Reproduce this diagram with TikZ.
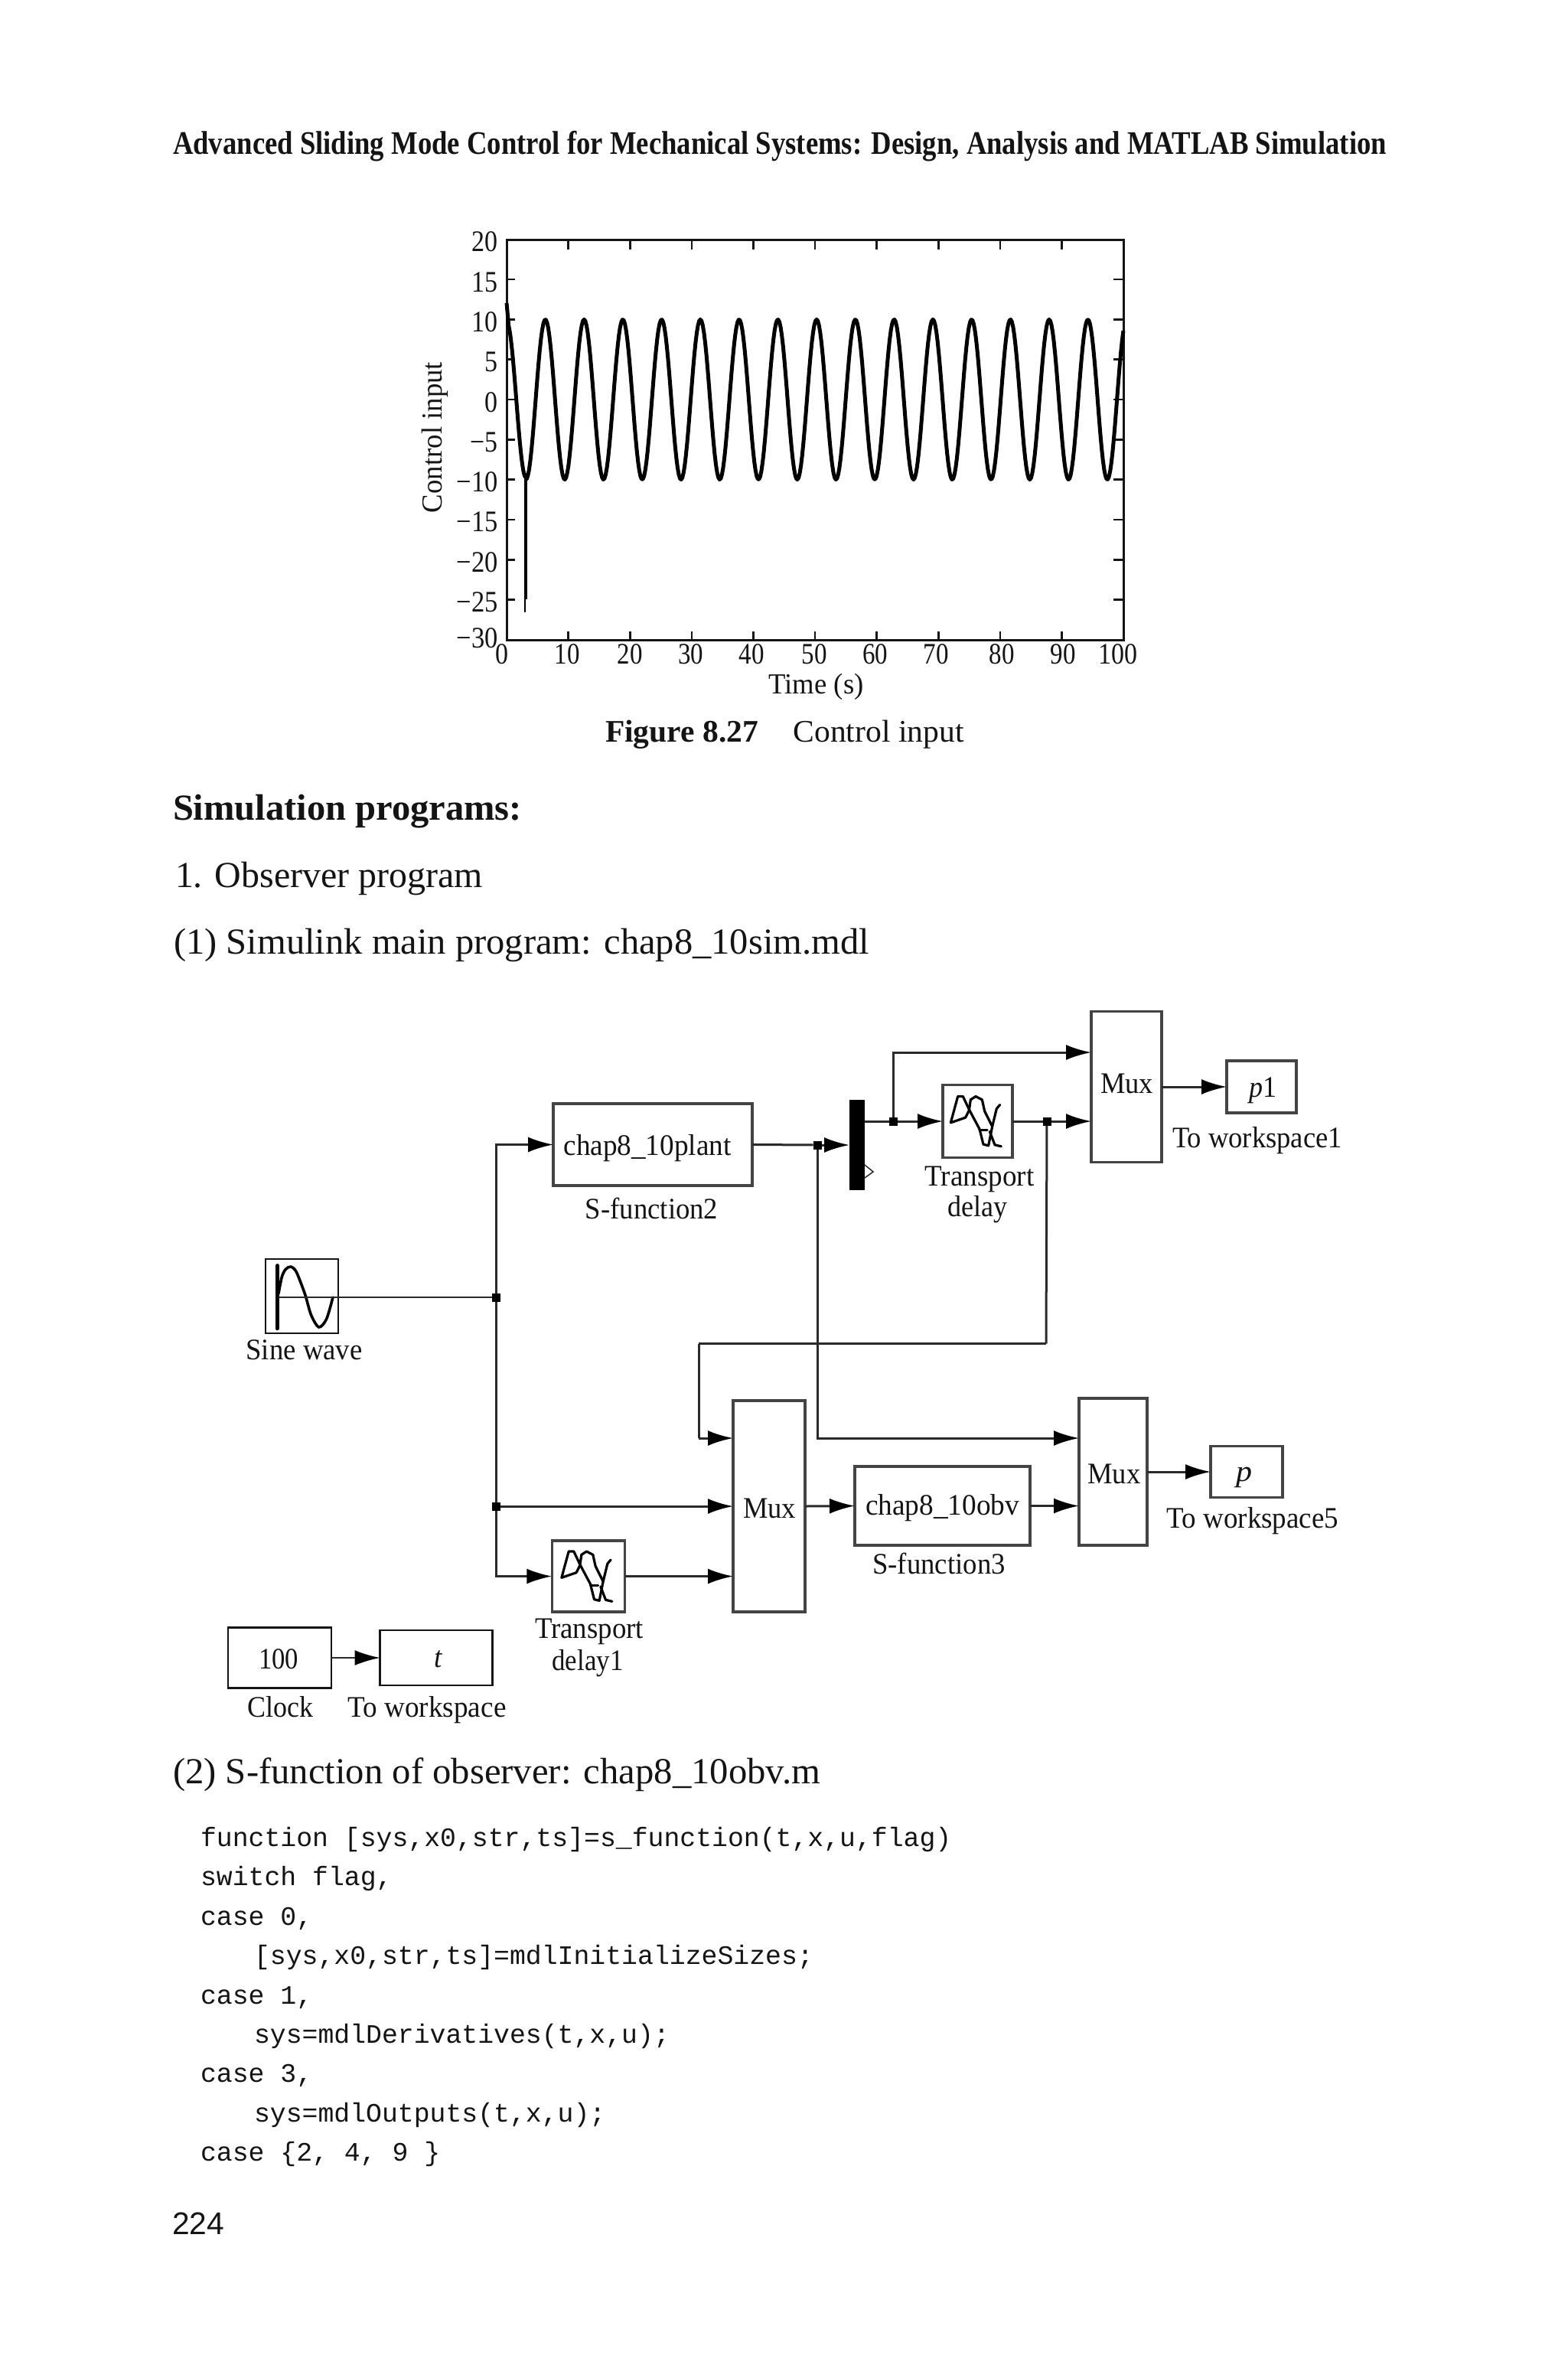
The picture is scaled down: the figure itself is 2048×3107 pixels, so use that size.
\documentclass[tikz,border=0pt]{standalone}
\usepackage{fontspec}
\usepackage{graphicx}
\setmainfont{Liberation Serif}
\setsansfont{Liberation Sans}
\setmonofont{Liberation Mono}
\usetikzlibrary{arrows.meta,calc}
\definecolor{ink}{HTML}{141414}
\definecolor{wire}{HTML}{2A2A2A}
\definecolor{boxline}{HTML}{444444}
\newsavebox\fitb
\newcommand\fitx[3]{\fontsize{#1}{#1}\selectfont\sbox\fitb{#3}\pgfmathsetmacro\fitr{#2/\wd\fitb}\scalebox{\fitr}[1]{\usebox\fitb}}
\newcommand\lab[4]{\node[txt] (#1) at (#2) {\fitx{39}{#3}{#4}};}
\newcommand\delayicon[2]{%
  \begin{scope}[shift={(#1,#2)},x=.3333pt,y=-.3333pt,line width=3.2pt,black,line join=round,line cap=round]
    \draw (52,175) -- (80,72) -- (100,72) -- (125,125) -- (110,155) -- cycle;
    \draw (125,120) -- (130,85) -- (150,72) -- (175,85) -- (185,130) -- (215,190) -- (232,120) -- (245,105);
    \draw (125,125) -- (165,200) -- (180,260) -- (200,265) -- (215,190);
    \draw (165,205) -- (195,205);
    \draw (205,210) -- (225,262) -- (250,268);
  \end{scope}}
\tikzset{
  txt/.style={inner sep=0pt,outer sep=0pt,anchor=base,text=ink},
  txtw/.style={inner sep=0pt,outer sep=0pt,anchor=base west,text=ink},
  blk/.style={draw=boxline,line width=3.2pt,inner sep=0pt,outer sep=0pt,fill=white},
  blkd/.style={draw=ink,line width=2.8pt,inner sep=0pt,outer sep=0pt,fill=white},
  dot/.style={fill=black,inner sep=0pt,minimum size=11pt,outer sep=0pt},
  sig/.style={draw=wire,line width=3pt},
  sigthin/.style={draw=wire,line width=2.2pt},
  arr/.style={sig,-{Latex[length=33pt,width=20pt,black]}},
  arrthin/.style={sigthin,-{Latex[length=33pt,width=20pt,black]}},
  code/.style={inner sep=0pt,outer sep=0pt,anchor=base west,text=ink,font=\ttfamily\fontsize{34.8}{34.8}\selectfont},
  tick/.style={draw=ink,line width=2.6pt},
  curve/.style={draw=black,line width=5pt,line join=round},
}
\begin{document}
\begin{tikzpicture}[x=1pt,y=-1pt]
\useasboundingbox (0,0) rectangle (2048,3107);
% page text
\node[txtw] (title) at (226,201.7) {\fitx{43}{1586}{\bfseries Advanced Sliding Mode Control for Mechanical Systems: Design, Analysis and MATLAB Simulation}};
\node[txtw] (h1) at (226,1071.7) {\fitx{48}{456}{\bfseries Simulation programs:}};
\node[txtw] (h2) at (229,1159) {\fitx{48}{402}{1. Observer program}};
\node[txtw] (h3) at (227,1246.7) {\fitx{48}{909}{(1) Simulink main program: chap8\_10sim.mdl}};
\node[txtw] (h4) at (226,2330) {\fitx{48}{846}{(2) S-function of observer: chap8\_10obv.m}};
\node[txtw] (capa) at (791,969) {\fitx{41}{200}{\bfseries Figure 8.27}};
\node[txtw] (capb) at (1036.6,969) {\fitx{41}{223}{Control input}};
% plot
\draw[draw=ink,line width=3pt] (662,313.5) rectangle (1468,836.5);
\foreach \k in {1,...,9} {
  \draw[tick] (662+80.6*\k,313.5) -- (662+80.6*\k,326);
  \draw[tick] (662+80.6*\k,836.5) -- (662+80.6*\k,825);
}
\foreach \v in {-25,-20,...,15} {
  \draw[tick] (662,522-10.46*\v) -- (673,522-10.46*\v);
  \draw[tick] (1468,522-10.46*\v) -- (1455,522-10.46*\v);
}
\foreach \v/\s/\w in {20/20/34,15/15/34,10/10/34,5/5/17,0/0/17,-5/{−5}/36,-10/{−10}/54,-15/{−15}/54,-20/{−20}/54,-25/{−25}/54} {
  \node[inner sep=0pt,outer sep=0pt,anchor=base east,text=ink] at (650.7,522-10.46*\v+16) {\fitx{39}{\w}{\s}};
}
\node[inner sep=0pt,outer sep=0pt,anchor=base east,text=ink] (ym30) at (650.7,846) {\fitx{39}{54}{−30}};
\foreach \px/\s/\w in {656/0/17,741/10/33,823/20/33,902.6/30/33,982/40/33,1064/50/33,1143.7/60/33,1223.4/70/33,1309/80/33,1389/90/33,1460.7/100/51} {
  \node[txt] at (\px,867) {\fitx{39}{\w}{\s}};
}
\node[txt] (xlab) at (1066.5,906) {\fitx{38}{124}{Time (s)}};
\node[inner sep=0pt,outer sep=0pt,anchor=base,rotate=90,text=ink] (ylab) at (577,571.5) {\fitx{38}{197}{Control input}};
\draw[curve] (662,396) -- (664.4,422) -- plot[domain=0.3:3.05,samples=40] (662+8.06*\x,{522-102*cos(\x r)});
\draw[line width=3.8pt,draw=black] (687,618) -- (687,783);
\draw[line width=2pt,draw=black] (686,700) -- (686,800);
\draw[curve] plot[domain=3.05:100,samples=500] (662+8.06*\x,{522-104.6*cos(\x r)});
% blocks
\node[blkd,minimum width=95pt,minimum height=97pt] (sine) at (394.5,1693.5) {};
\node[blk,minimum width=260pt,minimum height=107pt] (plant) at (853,1495.5) {};
\node[fill=black,inner sep=0pt,outer sep=0pt,minimum width=20pt,minimum height=118pt] (bar) at (1120,1496) {};
\node[blk,minimum width=91pt,minimum height=95pt] (delay) at (1277.5,1465) {};
\node[blk,minimum width=92pt,minimum height=197pt] (muxa) at (1472,1420) {};
\node[blk,minimum width=91pt,minimum height=68pt] (pone) at (1648.5,1420) {};
\node[blk,minimum width=94pt,minimum height=276pt] (muxb) at (1005,1968) {};
\node[blk,minimum width=95.5pt,minimum height=93pt] (delayb) at (769,2059.5) {};
\node[blk,minimum width=229pt,minimum height=103pt] (obv) at (1231.5,1967.5) {};
\node[blk,minimum width=89pt,minimum height=192pt] (muxc) at (1454.5,1923) {};
\node[blk,minimum width=94pt,minimum height=67pt] (pfive) at (1629,1923) {};
\node[blkd,minimum width=135pt,minimum height=78.5pt] (clock) at (365.5,2166) {};
\node[blkd,minimum width=147pt,minimum height=72pt] (tout) at (570,2166) {};
% small marker of the bar
\draw[draw=wire,line width=1.5pt,fill=white] (bar.east |- 0,1522) -- (1141,1531) -- (bar.east |- 0,1539);
% icons
\begin{scope}[shift={(340,1640)},x=.3333pt,y=-.3333pt,line width=3.6pt,black,line cap=round]
  \draw[line width=4.4pt] (67,40) -- (67,288);
  \draw plot[smooth] coordinates {(72,150) (85,85) (100,55) (120,45) (140,62) (160,110) (178,160) (200,235) (230,282) (260,250) (285,165)};
\end{scope}
\delayicon{1225}{1408.5}
\delayicon{716.5}{2003}
% junctions and bends
\node[dot] (ja) at (648.6,1695) {};
\node[dot] (jb) at (648.6,1968) {};
\node[dot] (jc) at (1068,1496) {};
\node[dot] (jd) at (1167,1465) {};
\node[dot] (je) at (1368,1465) {};
\coordinate (sinein) at (364,1695);
\coordinate (fba) at (1367,1755.5);
\coordinate (fbb) at (913,1755.5);
\coordinate (fbc) at (913,1879);
\coordinate (muxatop) at (1426,1375);
\coordinate (muxbtop) at (958,1879);
\coordinate (muxctop) at (1410,1879);
% connectors
\draw[sigthin] (sinein) -- (ja);
\draw[arr] (ja) |- (plant.west);
\draw[sig] (ja) -- (jb);
\draw[arr] (jb) -- (muxb.west);
\draw[arr] (jb) |- (delayb.west);
\draw[arr] (delayb.east) -- (delayb.east -| muxb.west);
\draw[sig] (plant.east) -- (jc);
\draw[arr] (jc) -- (bar.west);
\draw[sig] (bar.east |- jd) -- (jd);
\draw[arr] (jd) -- (delay.west);
\draw[sig] (delay.east) -- (je);
\draw[arr] (je) -- (je -| muxa.west);
\draw[arr] (jd) |- (muxatop);
\draw[arr] (muxa.east) -- (pone.west);
\draw[sig] (je) -- (fba);
\draw[sigthin] (fba) -- (fbb);
\draw[sig] (fbb) -- (fbc);
\draw[arr] (fbc) -- (muxbtop);
\draw[arr] (jc) |- (muxctop);
\draw[arr] (muxb.east) -- (obv.west);
\draw[arr] (obv.east) -- (obv.east -| muxc.west);
\draw[arr] (muxc.east) -- (pfive.west);
\draw[arrthin] (clock.east) -- (tout.west);
% block texts
\lab{lsine}{397.5,1776.4}{152}{Sine wave}
\lab{lplantt}{846,1509.4}{219}{chap8\_10plant}
\lab{lplant}{851.6,1592.7}{173.5}{S-function2}
\lab{ldelayt}{1280,1549}{143}{Transport}
\lab{ldelayd}{1277,1589.6}{78}{delay}
\lab{lmuxa}{1472.5,1428.6}{69}{Mux}
\lab{lpone}{1650,1433.5}{36}{\textit{p}1}
\lab{lpo}{1643,1499}{222}{To workspace1}
\lab{lmuxb}{1005.5,1983.4}{69}{Mux}
\lab{ldelaybt}{770,2140}{142}{Transport}
\lab{ldelaybd}{768,2182}{93}{delay1}
\lab{lobvt}{1231.5,1979.7}{201}{chap8\_10obv}
\lab{lobv}{1227,2056}{173.5}{S-function3}
\lab{lmuxc}{1456,1938}{69}{Mux}
\lab{lpf}{1626,1935}{21}{\textit{p}}
\lab{lpfl}{1637,1996}{224.5}{To workspace5}
\lab{lhund}{364,2180}{52}{100}
\lab{lclock}{366,2243}{86}{Clock}
\lab{ltt}{572.5,2178.6}{11}{\textit{t}}
\lab{ltout}{558,2243}{207}{To workspace}
% code
\node[code] (ca) at (262,2412.5) {function [sys,x0,str,ts]=s\_function(t,x,u,flag)};
\node[code] (cb) at (262,2463.9) {switch flag,};
\node[code] (cc) at (262,2515.3) {case 0,};
\node[code] (cd) at (332,2566.7) {[sys,x0,str,ts]=mdlInitializeSizes;};
\node[code] (ce) at (262,2618.1) {case 1,};
\node[code] (cf) at (332,2669.5) {sys=mdlDerivatives(t,x,u);};
\node[code] (cg) at (262,2720.9) {case 3,};
\node[code] (ch) at (332,2772.3) {sys=mdlOutputs(t,x,u);};
\node[code] (ci) at (262,2823.7) {case \{2, 4, 9 \}};
\node[txtw] (pg) at (225,2919) {\sffamily\fitx{41}{68}{224}};
\end{tikzpicture}
\end{document}
